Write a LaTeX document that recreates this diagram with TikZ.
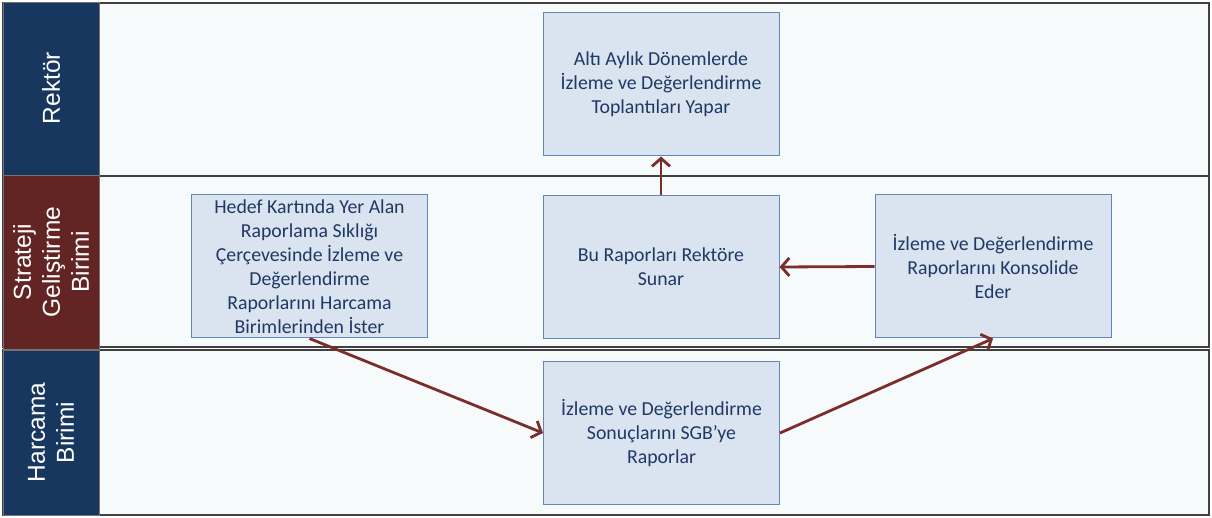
\documentclass[tikz,border=0pt]{standalone}
\usepackage{fontspec}
\setmainfont{Carlito}
\newfontfamily\lanefont{Liberation Sans}
\usetikzlibrary{arrows.meta}
\definecolor{laciv}{HTML}{17375E}
\definecolor{bordo}{HTML}{632523}
\definecolor{zemin}{HTML}{F6FAFB}
\definecolor{kutu}{HTML}{DAE4F0}
\definecolor{kutucizgi}{HTML}{6285BA}
\definecolor{yazi}{HTML}{1F3864}
\definecolor{ok}{HTML}{7B2D2B}
\tikzset{
	serit/.style={fill=zemin, draw=black!75, line width=1.2pt},
	baslik/.style={draw=black!55, line width=1pt},
	baslikyazi/.style={text=white, font=\lanefont\fontsize{24.5}{29}\selectfont, align=center, rotate=90},
	isbox/.style={draw=kutucizgi, fill=kutu, line width=1pt, text=yazi, font=\fontsize{19.8}{24}\selectfont, align=center, minimum width=236pt, minimum height=143pt, inner sep=0pt},
	akis/.style={draw=ok, line width=2.8pt, -{Straight Barb[length=8pt,width=18pt]}}
}

\begin{document}
\begin{tikzpicture}[x=1pt,y=-1pt]
		\useasboundingbox (0,0) rectangle (1212,518);
		\fill[white] (0,0) rectangle (1212,518);
		% seritler
		\draw[serit] (3,3) rectangle (1209,176);
		\draw[serit] (3,176) rectangle (1209,347);
		\draw[serit] (3,350) rectangle (1209,515);
		\filldraw[baslik, fill=laciv] (3,3) rectangle (99,176);
		\filldraw[baslik, fill=bordo] (3,176) rectangle (99,349);
		\filldraw[baslik, fill=laciv] (3,350) rectangle (99,515);
		\node[baslikyazi] (rektor) at (51,88) {Rektör};
		\node[baslikyazi] (sgb) at (51,262) {Strateji\\Geliştirme\\Birimi};
		\node[baslikyazi] (harcama) at (51,432.5) {Harcama\\Birimi};
		% adimlar
		\node[isbox] (toplanti) at (661,84.5) {Altı Aylık Dönemlerde\\İzleme ve Değerlendirme\\Toplantıları Yapar};
		\node[isbox] (sunar) at (661,267) {Bu Raporları Rektöre\\Sunar};
		\node[isbox] (ister) at (309.5,266.5) {Hedef Kartında Yer Alan\\Raporlama Sıklığı\\Çerçevesinde İzleme ve\\Değerlendirme\\Raporlarını Harcama\\Birimlerinden İster};
		\node[isbox] (konsolide) at (993,266.5) {İzleme ve Değerlendirme\\Raporlarını Konsolide\\Eder};
		\node[isbox] (raporlar) at (661.5,433) {İzleme ve Değerlendirme\\Sonuçlarını SGB’ye\\Raporlar};
		% oklar
		\draw[akis] (sunar.north) -- (toplanti.south);
		\draw[akis] (konsolide.west) -- (sunar.east);
		\draw[akis] (ister.south) -- (raporlar.west);
		\draw[akis] (raporlar.east) -- (konsolide.south);
	\end{tikzpicture}
\end{document}
